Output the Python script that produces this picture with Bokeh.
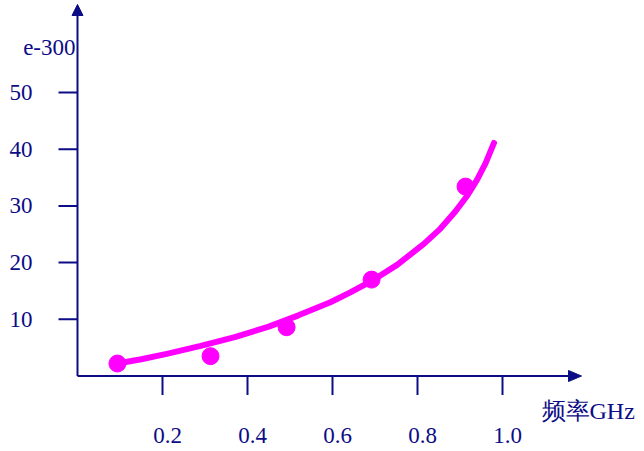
from bokeh.plotting import figure
from bokeh.models import Range1d
from bokeh.core.properties import value
from bokeh.embed import file_html
from bokeh.resources import INLINE

# ---- data ----
freq_pts = [0.094, 0.313, 0.492, 0.692, 0.913]
e300_pts = [2.2, 3.5, 8.6, 17.0, 33.4]

curve_x = [0.094, 0.15, 0.21, 0.29, 0.37, 0.45, 0.52, 0.595, 0.642, 0.693,
           0.752, 0.815, 0.854, 0.889, 0.917, 0.940, 0.960, 0.980]
curve_y = [2.2, 2.95, 3.9, 5.3, 6.85, 8.7, 10.7, 13.0, 14.75, 16.8,
           19.6, 23.3, 26.0, 29.0, 31.8, 34.6, 37.5, 41.1]

x_ticks = [0.2, 0.4, 0.6, 0.8, 1.0]
x_tick_labels = ["0.2", "0.4", "0.6", "0.8", "1.0"]
y_ticks = [10, 20, 30, 40, 50]
y_tick_labels = ["10", "20", "30", "40", "50"]
y_title = "e-300"
x_title = "频率GHz"

# ---- layout ----
W, H = 644, 451
PX = 425.0      # pixels per x unit
PY = 5.67       # pixels per y unit
X0 = 77.0       # figure px of x=0 (from left)
Y0 = 375.5      # figure px of y=0 (from top)

def dx(px):
    return px / PX

def dy(px):
    return px / PY

NAVY = "#0c0c86"
MAG = "#ff00ff"
FONT = value("Liberation Serif")

p = figure(width=W, height=H,
           x_range=Range1d(-X0 / PX, (W - X0) / PX),
           y_range=Range1d(-(H - Y0) / PY, Y0 / PY),
           x_axis_location=None, y_axis_location=None,
           output_backend="svg", toolbar_location=None,
           min_border=0, min_border_left=0, min_border_right=0,
           min_border_top=0, min_border_bottom=0)
p.grid.visible = False
p.outline_line_color = None
p.background_fill_color = "white"

# axes lines
y_top = dy(Y0 - 15)
x_right = dx(568 - X0)
p.segment(x0=[0, 0], y0=[0, 0], x1=[0, x_right], y1=[y_top, 0],
          line_color=NAVY, line_width=2)

# arrow heads
p.patch(x=[0, -dx(5.5), dx(5.5)], y=[dy(Y0 - 4), y_top, y_top],
        fill_color=NAVY, line_color=NAVY)
p.patch(x=[dx(581 - X0), x_right, x_right], y=[0, dy(5.5), -dy(5.5)],
        fill_color=NAVY, line_color=NAVY)

# ticks
TL = 19
p.segment(x0=x_ticks, y0=[0] * len(x_ticks), x1=x_ticks, y1=[-dy(TL)] * len(x_ticks),
          line_color=NAVY, line_width=2)
p.segment(x0=[0] * len(y_ticks), y0=y_ticks, x1=[-dx(TL)] * len(y_ticks), y1=y_ticks,
          line_color=NAVY, line_width=2)

# tick labels
p.text(x=[t + dx(5) for t in x_ticks], y=[-dy(435 - Y0)] * len(x_ticks), text=x_tick_labels,
       text_font=FONT, text_font_size="23px", text_color=NAVY,
       text_align="center", text_baseline="middle")
p.text(x=[-dx(X0 - 32)] * len(y_ticks), y=y_ticks, text=y_tick_labels,
       text_font=FONT, text_font_size="23px", text_color=NAVY,
       text_align="right", text_baseline="middle")

# axis titles
p.text(x=[-dx(2)], y=[dy(Y0 - 47)], text=[y_title],
       text_font=FONT, text_font_size="23px", text_color=NAVY,
       text_align="right", text_baseline="middle")
p.text(x=[dx(541 - X0)], y=[-dy(410 - Y0)], text=[x_title],
       text_font=FONT, text_font_size="24px", text_color=NAVY,
       text_align="left", text_baseline="middle")

# curve and points
p.line(curve_x, curve_y, line_color=MAG, line_width=6,
       line_cap="round", line_join="round")
p.scatter(freq_pts, e300_pts, size=17, marker="circle",
          fill_color=MAG, line_color=MAG)

open("out.html", "w").write(file_html(p, INLINE))
